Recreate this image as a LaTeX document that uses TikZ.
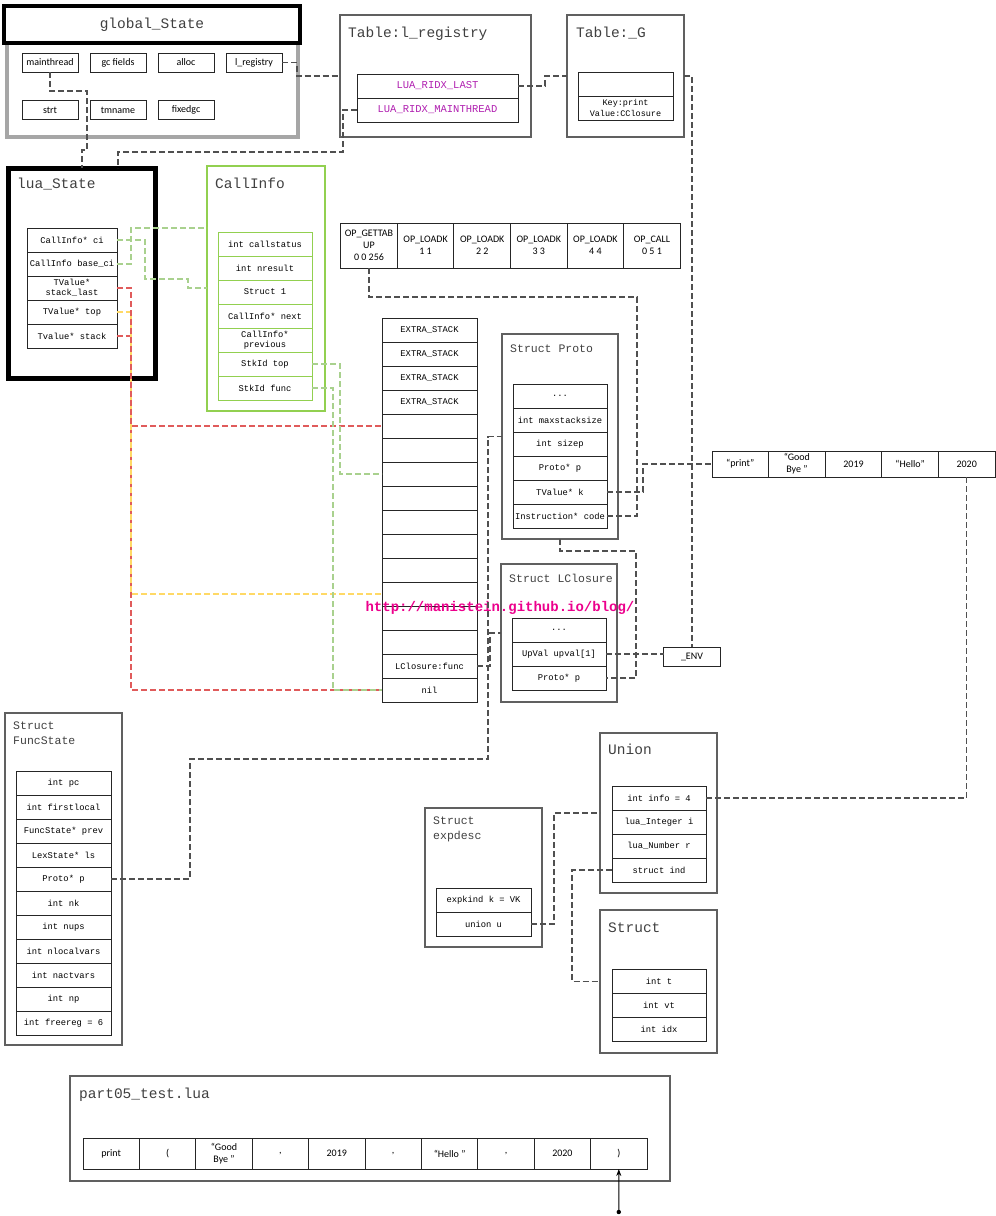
\documentclass[tikz,border=0pt]{standalone}
\usepackage{fontspec}
\setmainfont{Liberation Serif}
\setsansfont{Carlito}
\setmonofont{Liberation Mono}
\usetikzlibrary{arrows.meta,positioning}
\definecolor{lnkgray}{HTML}{505050}
\definecolor{boxgray}{HTML}{606060}
\definecolor{gsgray}{HTML}{A6A6A6}
\definecolor{cigreen}{HTML}{92D050}
\definecolor{cilink}{HTML}{A9D18E}
\definecolor{stred}{HTML}{E05B5B}
\definecolor{styellow}{HTML}{FFD966}
\definecolor{ridx}{HTML}{B020B0}
\definecolor{ttlink}{HTML}{404040}
\newcommand{\tkopen}{(}
\newcommand{\tkclose}{)}
\tikzset{
  cell/.style={draw=black!85,line width=1pt,minimum width=94pt,minimum height=24pt,
               inner sep=0pt,outer sep=0pt,align=center,
               font=\fontsize{8.8}{9.5}\selectfont\ttfamily},
  scell/.style={cell,font=\fontsize{10}{12}\selectfont\sffamily},
  gcell/.style={cell,draw=cigreen},
  sbox/.style={draw=boxgray,line width=1.1pt,inner sep=0pt,outer sep=0pt,anchor=north west},
  ttl/.style={inner sep=0pt,text=ttlink,font=\fontsize{14.5}{16}\selectfont\ttfamily},
  ttls/.style={inner sep=0pt,text=ttlink,align=left,font=\fontsize{11.5}{15}\selectfont\ttfamily},
  link/.style={draw=lnkgray,line width=1.1pt,dash pattern=on 6pt off 3pt},
  glink/.style={link,draw=cilink},
  rlink/.style={link,draw=stred},
  ylink/.style={link,draw=styellow},
}

\begin{document}
\begin{tikzpicture}[x=1pt,y=-1pt]
  \useasboundingbox (0,0) rectangle (996,1216);

  % ---------- global_State ----------
  \node[sbox,draw=gsgray,line width=4pt,minimum width=291pt,minimum height=131pt] (gsbox) at (7,6) {};
  \node[draw=black,line width=4pt,fill=white,minimum width=296pt,minimum height=37pt,
        inner sep=0pt,outer sep=0pt,text=ttlink,font=\fontsize{14.5}{16}\selectfont\ttfamily]
    (gsT) at (152,24.5) {global\_State};
  \foreach \t [count=\i] in {mainthread,gc fields,alloc,l\_registry}
    \node[scell,minimum width=56pt,minimum height=19pt] (gs\i) at ({50+68*(\i-1)},62.5) {\t};
  \foreach \t [count=\i from 5] in {strt,tmname,fixedgc}
    \node[scell,minimum width=56pt,minimum height=19pt] (gs\i) at ({50+68*(\i-5)},110) {\t};

  % ---------- registry and _G tables ----------
  \node[sbox,minimum width=191pt,minimum height=122pt] (regbox) at (340,15) {};
  \node[ttl,anchor=base west] (regT) at (348,37) {Table:l\_registry};
  \node[cell,minimum width=161pt,text=ridx,font=\fontsize{10.5}{12}\selectfont\ttfamily]
    (rl) at (437.5,86) {LUA\_RIDX\_LAST};
  \node[cell,minimum width=161pt,text=ridx,font=\fontsize{10.5}{12}\selectfont\ttfamily]
    (rm) at (437.5,110) {LUA\_RIDX\_MAINTHREAD};

  \node[sbox,minimum width=117pt,minimum height=122pt] (gbox) at (567,15) {};
  \node[ttl,anchor=base west] (gT) at (576,37) {Table:\_G};
  \node[cell,minimum width=95pt] (g1) at (625.5,84) {};
  \node[cell,minimum width=95pt,font=\fontsize{8.5}{10.5}\selectfont\ttfamily] (g2) at (625.5,108)
    {Key:print\\Value:CClosure};

  % ---------- lua_State ----------
  \node[sbox,draw=black,line width=5pt,minimum width=147pt,minimum height=210pt] (lsbox) at (8,168) {};
  \node[ttl,anchor=base west] (lsT) at (17,188) {lua\_State};
  \foreach \t [count=\i] in {CallInfo* ci,CallInfo base\_ci,{TValue*\\stack\_last},TValue* top,Tvalue* stack}
    \node[cell,minimum width=90pt] (ls\i) at (72,{240+24*(\i-1)}) {\t};

  % ---------- CallInfo ----------
  \node[sbox,draw=cigreen,minimum width=118pt,minimum height=245pt] (cibox) at (207,166) {};
  \node[ttl,anchor=base west] (ciT) at (215,188) {CallInfo};
  \foreach \t [count=\i] in {int callstatus,int nresult,Struct 1,CallInfo* next,{CallInfo*\\previous},StkId top,StkId func}
    \node[gcell] (ci\i) at (265,{244+24*(\i-1)}) {\t};

  % ---------- stack ----------
  \foreach \i in {1,...,4}
    \node[cell,minimum width=95pt] (st\i) at (429.5,{330+24*(\i-1)}) {EXTRA\_STACK};
  \foreach \i in {5,...,14}
    \node[cell,minimum width=95pt] (st\i) at (429.5,{330+24*(\i-1)}) {};
  \node[cell,minimum width=95pt] (st15) at (429.5,666) {LClosure:func};
  \node[cell,minimum width=95pt] (st16) at (429.5,690) {nil};

  % ---------- instructions ----------
  \foreach \t [count=\i] in {{OP\_GETTAB\\UP\\0 0 256},{OP\_LOADK\\1 1},{OP\_LOADK\\2 2},{OP\_LOADK\\3 3},{OP\_LOADK\\4 4},{OP\_CALL\\0 5 1}}
    \node[scell,minimum width=56.6pt,minimum height=45pt] (op\i) at ({369+56.6*(\i-1)},245.5) {\t};

  % ---------- Proto ----------
  \node[sbox,minimum width=116pt,minimum height=205pt] (prbox) at (502,334) {};
  \node[ttls,anchor=base west] (prT) at (510,352) {Struct Proto};
  \node[cell] (pr1) at (560,396) {...};
  \foreach \t [count=\i from 2] in {int maxstacksize,int sizep,Proto* p,TValue* k,Instruction* code}
    \node[cell] (pr\i) at (560,{396+24*(\i-1)}) {\t};

  % ---------- LClosure ----------
  \node[sbox,minimum width=116pt,minimum height=138pt] (lcbox) at (501,564) {};
  \node[ttls,anchor=base west] (lcT) at (509,582) {Struct LClosure};
  \node[cell] (lc1) at (559,630) {...};
  \node[cell] (lc2) at (559,654) {UpVal upval[1]};
  \node[cell] (lc3) at (559,678) {Proto* p};
  \node[scell,minimum width=57pt,minimum height=19pt] (env) at (692,656.5) {\_ENV};

  % ---------- constants ----------
  \foreach \t [count=\i] in {“print”,{“Good\\Bye ”},2019,“Hello”,2020}
    \node[scell,minimum width=56.6pt,minimum height=26pt] (k\i) at ({740.3+56.6*(\i-1)},464) {\t};

  % ---------- FuncState ----------
  \node[sbox,minimum width=117pt,minimum height=332pt] (fsbox) at (5,713) {};
  \node[ttls,anchor=north west] (fsT) at (13,722) {Struct\\FuncState};
  \foreach \t [count=\i] in {int pc,int firstlocal,FuncState* prev,LexState* ls,Proto* p,int nk,int nups,int nlocalvars,int nactvars,int np,int freereg = 6}
    \node[cell,minimum width=95pt] (fs\i) at (63.5,{783+24*(\i-1)}) {\t};

  % ---------- expdesc / union / struct ----------
  \node[sbox,minimum width=117pt,minimum height=139pt] (edbox) at (425,808) {};
  \node[ttls,anchor=north west] (edT) at (433,817) {Struct\\expdesc};
  \node[cell,minimum width=95pt] (ed1) at (483.5,900) {expkind k = VK};
  \node[cell,minimum width=95pt] (ed2) at (483.5,924) {union u};

  \node[sbox,minimum width=117pt,minimum height=160pt] (unbox) at (600,733) {};
  \node[ttl,anchor=base west] (unT) at (608,754) {Union};
  \foreach \t [count=\i] in {int info = 4,lua\_Integer i,lua\_Number r,struct ind}
    \node[cell] (un\i) at (659,{798+24*(\i-1)}) {\t};

  \node[sbox,minimum width=117pt,minimum height=143pt] (scbox) at (600,910) {};
  \node[ttl,anchor=base west] (scT) at (608,932) {Struct};
  \foreach \t [count=\i] in {int t,int vt,int idx}
    \node[cell] (sc\i) at (659,{981+24*(\i-1)}) {\t};

  % ---------- source file ----------
  \node[sbox,minimum width=600pt,minimum height=105pt] (srcbox) at (70,1076) {};
  \node[ttl,anchor=base west] (srcT) at (79,1098) {part05\_test.lua};
  \foreach \t [count=\i] in {print,\tkopen,{“Good\\Bye ”},{,},2019,{,},“Hello ”,{,},2020,\tkclose}
    \node[scell,minimum width=56.4pt,minimum height=31pt] (tk\i) at ({111.2+56.4*(\i-1)},1153.5) {\t};

  % ---------- watermark ----------
  \node[text=magenta,font=\fontsize{14}{14}\selectfont\ttfamily\bfseries] (wm) at (500,608)
    {http://manistein.github.io/blog/};

  % ---------- pointers ----------
  \draw[link] (gs1.south) |- (87,91) |- (82,150) -- (lsbox.north -| 82,0);
  \draw[link] (gs4.east) -- (297,62.5) |- (regbox.west);
  \draw[link] (rl.east) -- (545,86) |- (gbox.west);
  \draw[link] (gbox.east) -| (env.north);
  \draw[link] (rm.west) -| (343,152) -| (lsbox.north -| 118,0);

  \draw[glink] (ls1.east) -| (145,279) -| (188,288) -- (cibox.west |- 0,288);
  \draw[glink] (ls2.east) -| (131,228) -- (cibox.west |- 0,228);
  \draw[rlink] (ls5.east) -- (131,336) |- (st16.west);
  \draw[ylink] (ls4.east) -- (131,312) |- (st12.west);
  \draw[rlink] (ls3.east) -- (131,288) |- (st5.west);
  \draw[glink] (ci6.east) -- (340,364) |- (st7.west);
  \draw[glink] (ci7.east) -- (333,388) |- (st16.west);

  \draw[link] (op1.south) |- (637,297) |- (pr6.east);
  \draw[link] (pr5.east) -- (643,492) |- (k1.west);
  \draw[link] (k5.south) |- (un1.east);
  \draw[link] (prbox.south) |- (636,551) |- (lc3.east);
  \draw[link] (lc2.east) -- (env.west |- lc2.east);
  \draw[link] (st15.east) -- (490,666) |- (lcbox.west);
  \draw[link] (fs5.east) -- (190,879) |- (488,759) |- (prbox.west);
  \draw[link] (ed2.east) -- (554,924) |- (unbox.west);
  \draw[link] (un4.west) -- (572,870) |- (scbox.west);

  \coordinate (cur) at (618.8,1212);
  \fill (cur) circle (2.2pt);
  \draw[-{Stealth[length=7pt,width=5pt]},line width=0.9pt] (cur) -- (tk10.south);
\end{tikzpicture}
\end{document}
